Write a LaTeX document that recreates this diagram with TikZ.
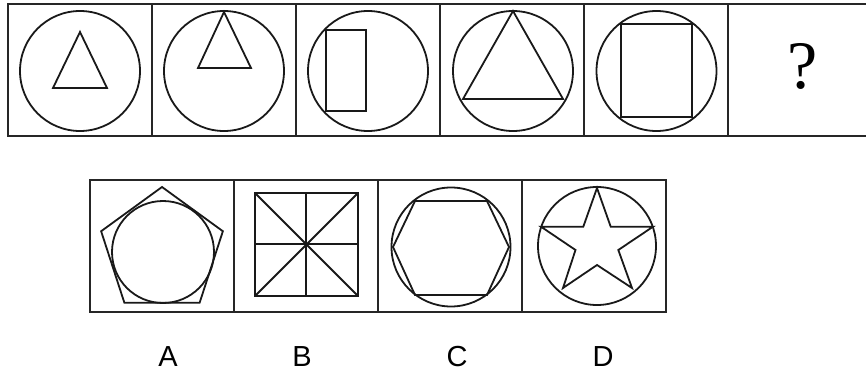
\documentclass[tikz,border=0pt]{standalone}
\usepackage{fontspec}
\setmainfont{Liberation Serif}
\newfontfamily\letterfont{Liberation Sans}
\usepackage{tikz}
\usetikzlibrary{positioning}

\begin{document}
\begin{tikzpicture}[x=1pt, y=-1pt,
  cell/.style={rectangle, draw=black!85, line width=1.9pt, minimum width=144pt, minimum height=132pt, inner sep=0pt, outer sep=0pt},
  fig/.style={draw=black!90, line width=1.8pt, line join=miter},
  letter/.style={font=\letterfont\fontsize{29}{29}\selectfont, inner sep=0pt},
  qsign/.style={font=\fontsize{68}{68}\selectfont, inner sep=0pt}
]

% page
\clip (0,0) rectangle (866,374);

% Question row
\node[cell] (t1) at (80,70) {};
\node[cell] (t2) at (224,70) {};
\node[cell] (t3) at (368,70) {};
\node[cell] (t4) at (512,70) {};
\node[cell] (t5) at (656,70) {};
\node[cell] (t6) at (800,70) {};

\draw[fig] (80,71) circle (60);
\draw[fig] (80,32) -- (107,88) -- (53,88) -- cycle;

\draw[fig] (224,71) circle (60);
\draw[fig] (224,12) -- (251,68) -- (198,68) -- cycle;

\draw[fig] (368,71) circle (60);
\draw[fig] (326,30) rectangle (366,111);

\draw[fig] (513,71) circle (60);
\draw[fig] (513,11) -- (563,99) -- (463,99) -- cycle;

\draw[fig] (656.5,71) circle (60);
\draw[fig] (621,24) rectangle (692,117);

\node[qsign] (qmark) at (803,66) {?};

% Answer row
\node[cell] (b1) at (162,246) {};
\node[cell] (b2) at (306,246) {};
\node[cell] (b3) at (450,246) {};
\node[cell] (b4) at (594,246) {};

% A: pentagon round a circle
\draw[fig] (162,251) +(-90:64) -- +(-18:64) -- +(54:64) -- +(126:64) -- +(198:64) -- cycle;
\draw[fig] (163,252) circle (51);

% B: square cut in eight
\draw[fig] (255,193) rectangle (358,296);
\draw[fig] (255,193) -- (358,296);
\draw[fig] (358,193) -- (255,296);
\draw[fig] (306,193) -- (306,296);
\draw[fig] (255,244) -- (358,244);

% C: hexagon in a circle
\draw[fig] (451,247) circle (59.5);
\draw[fig] (415,201) -- (487,201) -- (509,247) -- (487,295) -- (415,295) -- (393,247) -- cycle;

% D: star in a circle
\draw[fig] (597,246) circle (59);
\draw[fig] (597,188) -- (610.7,226.7) -- (653,226.7) -- (618.3,250) -- (632,288)
  -- (597,265) -- (563,288) -- (575.5,250) -- (541,226.7) -- (583.3,226.7) -- cycle;

% letters
\node[letter] (la) at (168,357) {A};
\node[letter] (lb) at (302,357) {B};
\node[letter] (lc) at (457,357) {C};
\node[letter] (ld) at (603,357) {D};

\end{tikzpicture}
\end{document}
